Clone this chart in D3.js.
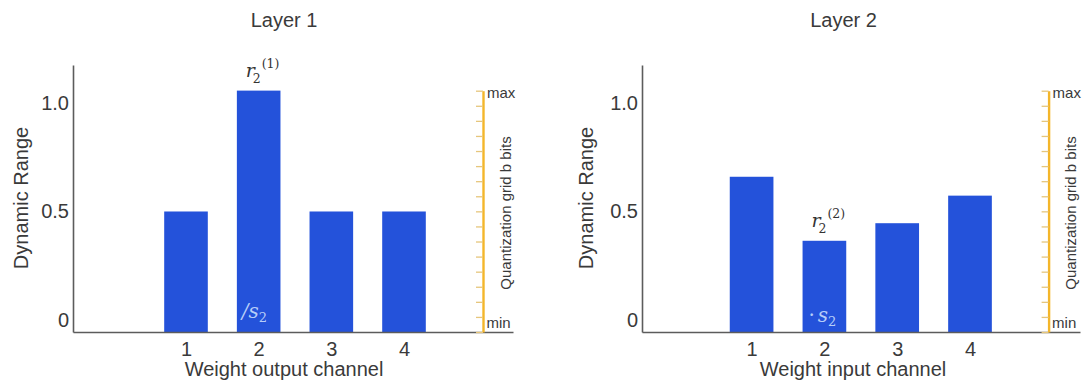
<!DOCTYPE html>
<html>
<head>
<meta charset="utf-8">
<script src="https://cdn.jsdelivr.net/npm/d3@7"></script>
<style>
  html, body { margin: 0; padding: 0; background: #ffffff; }
  svg { display: block; }
  text { font-family: "Liberation Sans", Arial, Helvetica, sans-serif; }
</style>
</head>
<body>
<svg id="chart" width="1091" height="383"></svg>
<script>
// Channel indices and per-channel dynamic ranges for each layer
const channels = [1, 2, 3, 4];
const layer1Range = [0.5, 1.057, 0.5, 0.5];
const layer2Range = [0.66, 0.365, 0.446, 0.573];

// Y-axis tick positions and their printed labels
const yTickValues = [0, 0.5, 1.0];
const yTickLabels = ["0", "0.5", "1.0"];

// Quantization grid: 2^b levels with b = 4
const gridSteps = 16;

const panels = [
  {
    title: "Layer 1", xTitle: "Weight output channel", values: layer1Range,
    mark: 1, sup: "(1)", op: "/",
    axisX0: 73, axisX1: 513, c1: 186, c4: 404, gridX: 483,
    titleX: 284, xTitleX: 284, yTitleX: 21
  },
  {
    title: "Layer 2", xTitle: "Weight input channel", values: layer2Range,
    mark: 1, sup: "(2)", op: "\u00B7",
    axisX0: 642, axisX1: 1080, c1: 751.6, c4: 970, gridX: 1048.6,
    titleX: 843.5, xTitleX: 853, yTitleX: 586
  }
];

const svg = d3.select("#chart");
const baseY = 332, topY = 65;
const y = d3.scaleLinear().domain([-0.0553, 1.175]).range([baseY, topY]);
const barColor = "#2452da";
const axisColor = "#5c5c5c";
const textColor = "#3a3a3a";
const gridColor = "#f4b62a";
const math = '"DejaVu Serif", "Liberation Serif", serif';

panels.forEach(p => {
  const g = svg.append("g");

  // channel scale, widened so the axis line spans the full panel
  const xc = d3.scaleLinear().domain([1, 4]).range([p.c1, p.c4]);
  const x = xc.copy().domain([xc.invert(p.axisX0), xc.invert(p.axisX1)]).range([p.axisX0, p.axisX1]);
  const step = x(2) - x(1);
  const barW = step * 0.6;

  // bars
  g.selectAll("rect.bar").data(channels).join("rect")
    .attr("class", "bar")
    .attr("x", d => x(d) - barW / 2)
    .attr("width", barW)
    .attr("y", (d, i) => y(p.values[i]))
    .attr("height", (d, i) => y.range()[0] - y(p.values[i]))
    .attr("fill", barColor);

  // y axis
  const yAxis = d3.axisLeft(y).tickValues(yTickValues)
    .tickFormat((d, i) => yTickLabels[i]).tickSize(0).tickSizeOuter(0).tickPadding(4);
  const ya = g.append("g").attr("transform", `translate(${p.axisX0},0)`).call(yAxis);
  ya.select(".domain").attr("stroke", axisColor).attr("stroke-width", 1.6);
  ya.selectAll(".tick text").attr("fill", textColor)
    .style("font-family", '"Liberation Sans", Arial, sans-serif').style("font-size", "20px");

  // x axis
  const xAxis = d3.axisBottom(x).tickValues(channels).tickFormat(d3.format("d"))
    .tickSize(0).tickSizeOuter(0).tickPadding(10);
  const xa = g.append("g").attr("transform", `translate(0,${baseY})`).call(xAxis);
  xa.select(".domain").attr("stroke", axisColor).attr("stroke-width", 1.6);
  xa.selectAll(".tick text").attr("fill", textColor)
    .style("font-family", '"Liberation Sans", Arial, sans-serif').style("font-size", "20px");

  // titles
  g.append("text").attr("x", p.titleX).attr("y", 27).attr("text-anchor", "middle")
    .attr("fill", textColor).style("font-size", "20px").text(p.title);
  g.append("text").attr("x", p.xTitleX).attr("y", 376).attr("text-anchor", "middle")
    .attr("fill", textColor).style("font-size", "20px").text(p.xTitle);
  g.append("text")
    .attr("transform", `translate(${p.yTitleX},198) rotate(-90)`)
    .attr("text-anchor", "middle").attr("dominant-baseline", "central")
    .attr("fill", textColor).style("font-size", "20px").text("Dynamic Range");

  // quantization grid axis
  const q = d3.scaleLinear().domain([0, gridSteps]).range([baseY, 90.7]);
  const qAxis = d3.axisLeft(q).tickValues(d3.range(gridSteps + 1)).tickFormat("")
    .tickSize(7).tickSizeOuter(0);
  const qa = g.append("g").attr("transform", `translate(${p.gridX},0)`).call(qAxis);
  qa.select(".domain").attr("stroke", gridColor).attr("stroke-width", 2.4);
  qa.selectAll(".tick line").attr("stroke", "#e6c67c").attr("stroke-width", 1.3);

  g.append("text").attr("x", p.gridX + 4).attr("y", 98.3)
    .attr("fill", textColor).style("font-size", "15px").text("max");
  g.append("text").attr("x", p.gridX + 3.5).attr("y", 328.3)
    .attr("fill", textColor).style("font-size", "15px").text("min");
  g.append("text")
    .attr("transform", `translate(${p.gridX + 22},213) rotate(-90)`)
    .attr("text-anchor", "middle").attr("dominant-baseline", "central")
    .attr("fill", textColor).style("font-size", "15px").text("Quantization grid b bits");

  // range annotation above the marked channel: r with subscript 2 and superscript (k)
  const cx = x(channels[p.mark]);
  const topBar = y(p.values[p.mark]);
  const ann = g.append("text").attr("x", cx - 13).attr("y", topBar - 14)
    .attr("fill", "#333").style("font-family", math);
  ann.append("tspan").style("font-style", "italic").style("font-size", "19px").text("r");
  ann.append("tspan").attr("dx", -2).attr("dy", 6).style("font-size", "12.5px").text("2");
  ann.append("tspan").attr("dx", 1).attr("dy", -15).style("font-size", "12.5px").text(p.sup);

  // scaling factor inside the marked bar
  const sc = g.append("text")
    .attr("x", p.op === "/" ? cx - 17 : cx - 16)
    .attr("y", p.op === "/" ? 318 : 322)
    .attr("fill", "#b6cdf8").style("font-family", math).style("font-size", "20px");
  sc.append("tspan").style("font-style", p.op === "/" ? "italic" : "normal")
    .text(p.op === "/" ? "/" : "\u00B7");
  sc.append("tspan").attr("dx", p.op === "/" ? 0 : 3).style("font-style", "italic").text("s");
  sc.append("tspan").attr("dy", 4).style("font-size", "13px").text("2");
});
</script>
</body>
</html>
